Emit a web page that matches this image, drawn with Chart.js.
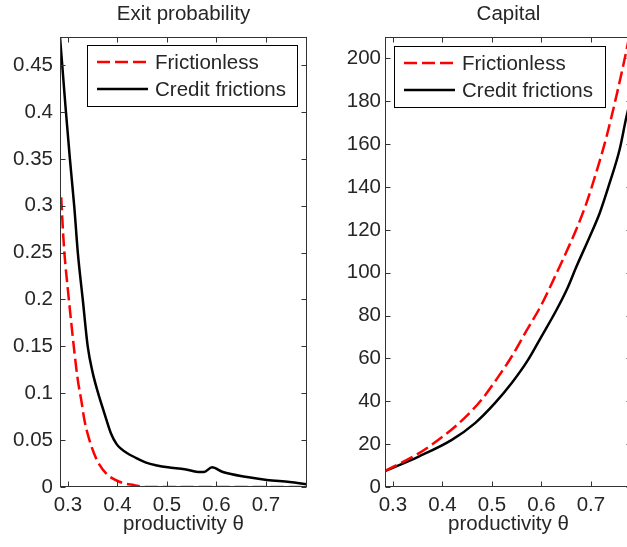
<!DOCTYPE html>
<html><head><meta charset="utf-8">
<script src="https://cdn.jsdelivr.net/npm/chart.js@4.4.1/dist/chart.umd.min.js"></script>
<style>
html,body{margin:0;padding:0;background:#fff;overflow:hidden;}
#wrap{position:relative;width:627px;height:547px;overflow:hidden;background:#fff;}
#c1{position:absolute;left:0;top:0;}
#c2{position:absolute;left:313px;top:0;}
</style></head><body>
<div id="wrap"><canvas id="c1" width="313" height="547"></canvas><canvas id="c2" width="340" height="547"></canvas></div>
<script>
// ---- data ----
const seriesNames = ['Frictionless', 'Credit frictions'];
const xTickValues = [0.3, 0.4, 0.5, 0.6, 0.7];
const xTickLabels = ['0.3', '0.4', '0.5', '0.6', '0.7'];
const exitTickValues = [0, 0.05, 0.1, 0.15, 0.2, 0.25, 0.3, 0.35, 0.4, 0.45];
const exitTickLabels = ['0', '0.05', '0.1', '0.15', '0.2', '0.25', '0.3', '0.35', '0.4', '0.45'];
const capTickValues = [0, 20, 40, 60, 80, 100, 120, 140, 160, 180, 200];
const capTickLabels = ['0', '20', '40', '60', '80', '100', '120', '140', '160', '180', '200'];

const exitThetaFrictionless = [0.2865, 0.290, 0.293, 0.300, 0.307, 0.3135, 0.320, 0.327, 0.3335, 0.3435, 0.357, 0.377, 0.404, 0.434, 0.460, 0.500, 0.600, 0.700, 0.783];
const exitFrictionless      = [0.309, 0.273, 0.249, 0.210, 0.174, 0.142, 0.114, 0.0925, 0.071, 0.050, 0.0305, 0.0146, 0.0056, 0.002, 0.0, 0.0, 0.0, 0.0, 0.0];
const exitThetaCredit = [0.284, 0.290, 0.296, 0.304, 0.313, 0.320, 0.330, 0.340, 0.350, 0.360, 0.374, 0.387, 0.398, 0.407, 0.420, 0.434, 0.458, 0.480, 0.502, 0.536, 0.567, 0.575, 0.591, 0.613, 0.662, 0.702, 0.748, 0.783];
const exitCredit      = [0.480, 0.440, 0.400, 0.350, 0.298, 0.250, 0.200, 0.150, 0.122, 0.102, 0.078, 0.057, 0.046, 0.041, 0.036, 0.032, 0.026, 0.023, 0.021, 0.019, 0.016, 0.016, 0.021, 0.016, 0.0106, 0.0075, 0.0053, 0.003];

const capThetaFrictionless = [0.284, 0.352, 0.405, 0.446, 0.479, 0.513, 0.540, 0.567, 0.600, 0.625, 0.651, 0.671, 0.691, 0.711, 0.731, 0.752, 0.772, 0.783];
const capFrictionless      = [7.5, 15.7, 24.3, 32.5, 40.7, 51.5, 60.9, 71.8, 85.0, 97.0, 110.0, 120.5, 132.5, 147.0, 163.0, 183.0, 204.0, 217.0];
const capThetaCredit = [0.284, 0.352, 0.419, 0.466, 0.506, 0.540, 0.573, 0.600, 0.629, 0.653, 0.671, 0.698, 0.718, 0.738, 0.758, 0.772, 0.783];
const capCredit      = [7.4, 14.2, 22.0, 29.8, 39.1, 48.5, 59.3, 70.2, 82.0, 93.0, 103.0, 117.0, 128.0, 142.0, 157.5, 173.0, 183.0];

// ---- helpers ----
const FONT = "'Liberation Sans', Arial, Helvetica, sans-serif";
const FS = 20.5;
const TXT = '#262626';
const AX = '#333333';
Chart.defaults.font.family = FONT;
Chart.defaults.color = TXT;

function pts(xs, ys) { return xs.map((x, i) => ({x: x, y: ys[i]})); }

const boxPlugin = {
  id: 'matlabBox',
  afterDatasetsDraw(chart) {
    const {ctx, chartArea: a, scales} = chart;
    const L = Math.round(a.left) + 0.5, R = Math.round(a.right) - 0.5;
    const T = Math.round(a.top) + 0.5, B = Math.round(a.bottom) - 0.5;
    const tl = 5;
    ctx.save();
    ctx.strokeStyle = AX; ctx.lineWidth = 1;
    ctx.strokeRect(L, T, R - L, B - T);
    ctx.beginPath();
    scales.x.ticks.forEach(t => {
      const px = Math.round(scales.x.getPixelForValue(t.value)) + 0.5;
      ctx.moveTo(px, B); ctx.lineTo(px, B - tl);
      ctx.moveTo(px, T); ctx.lineTo(px, T + tl);
    });
    scales.y.ticks.forEach(t => {
      const py = Math.round(scales.y.getPixelForValue(t.value)) + 0.5;
      ctx.moveTo(L, py); ctx.lineTo(L + tl, py);
      ctx.moveTo(R, py); ctx.lineTo(R - tl, py);
    });
    ctx.stroke();
    ctx.restore();
  },
  afterDraw(chart) {
    const o = chart.options.plugins.matlabBox;
    if (!o) return;
    const {ctx} = chart;
    ctx.save();
    ctx.fillStyle = '#fff';
    ctx.fillRect(o.left, o.top, o.width, o.height);
    ctx.strokeStyle = '#000'; ctx.lineWidth = 1;
    ctx.strokeRect(o.left + 0.5, o.top + 0.5, o.width, o.height);
    chart.data.datasets.forEach((ds, i) => {
      const y = o.top + o.rows[i];
      ctx.beginPath();
      ctx.strokeStyle = ds.borderColor;
      ctx.lineWidth = ds.borderWidth;
      ctx.setLineDash(ds.borderDash || []);
      ctx.moveTo(o.left + 10, y); ctx.lineTo(o.left + 61, y);
      ctx.stroke();
      ctx.setLineDash([]);
      ctx.fillStyle = TXT;
      ctx.font = FS + 'px ' + FONT;
      ctx.textBaseline = 'middle';
      ctx.textAlign = 'left';
      ctx.fillText(ds.label, o.left + 68, y + 1);
    });
    ctx.restore();
  }
};

function makeChart(id, cfg) {
  return new Chart(document.getElementById(id), {
    type: 'line',
    data: {
      datasets: [
        {label: seriesNames[0], data: pts(cfg.fx, cfg.fy), borderColor: '#ff0000', borderWidth: 2.5, borderDash: [13, 5], pointRadius: 0, cubicInterpolationMode: 'monotone', fill: false},
        {label: seriesNames[1], data: pts(cfg.cx, cfg.cy), borderColor: '#000000', borderWidth: 2.5, pointRadius: 0, cubicInterpolationMode: 'monotone', fill: false}
      ]
    },
    plugins: [boxPlugin],
    options: {
      responsive: false, animation: false, events: [],
      layout: {padding: {left: 0, right: cfg.padRight, top: 0, bottom: 0}},
      plugins: {
        legend: {display: false},
        tooltip: {enabled: false},
        title: {display: true, text: cfg.title, fullSize: false, color: TXT, font: {size: FS, weight: 'normal', family: FONT}, padding: {top: 2.2, bottom: 10.2}},
        matlabBox: cfg.legend
      },
      scales: {
        x: {
          type: 'linear', position: 'bottom', min: 0.284, max: 0.783,
          afterBuildTicks: s => { s.ticks = xTickValues.map(v => ({value: v})); },
          afterFit: s => { s.height = 60; },
          grid: {display: false, drawTicks: false}, border: {display: false},
          ticks: {autoSkip: false, maxRotation: 0, padding: 6, color: TXT, font: {size: FS}, callback: (v, i) => xTickLabels[i]},
          title: {display: true, text: 'productivity θ', color: TXT, font: {size: FS}, padding: {top: 0, bottom: 10}}
        },
        y: {
          type: 'linear', position: 'left', min: 0, max: cfg.ymax,
          afterBuildTicks: s => { s.ticks = cfg.yt.map(v => ({value: v})); },
          afterFit: s => { s.width = cfg.yWidth; },
          grid: {display: false, drawTicks: false}, border: {display: false},
          ticks: {autoSkip: false, padding: cfg.yPad, color: TXT, font: {size: FS}, callback: (v, i) => cfg.yl[i]}
        }
      }
    }
  });
}

makeChart('c1', {
  title: 'Exit probability', fx: exitThetaFrictionless, fy: exitFrictionless, cx: exitThetaCredit, cy: exitCredit,
  ymax: 0.48, yt: exitTickValues, yl: exitTickLabels, yWidth: 60, yPad: 7, padRight: 6,
  legend: {left: 87, top: 45, width: 210, height: 61, rows: [17, 44]}
});
makeChart('c2', {
  title: 'Capital', fx: capThetaFrictionless, fy: capFrictionless, cx: capThetaCredit, cy: capCredit,
  ymax: 210, yt: capTickValues, yl: capTickLabels, yWidth: 72, yPad: 4, padRight: 21,
  legend: {left: 81, top: 46, width: 211, height: 61, rows: [17, 44]}
});
</script>
</body></html>
